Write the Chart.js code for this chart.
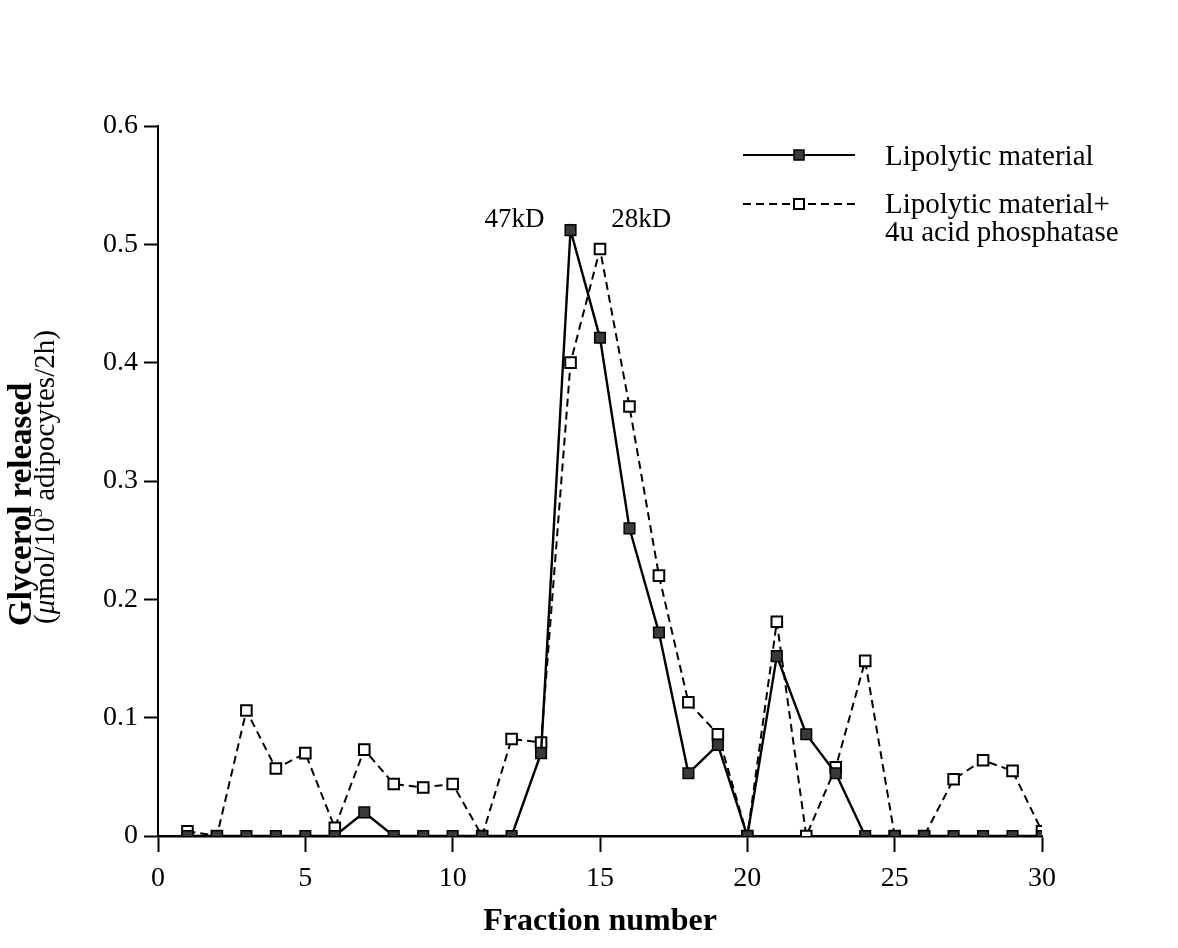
<!DOCTYPE html>
<html>
<head>
<meta charset="utf-8">
<script src="https://cdn.jsdelivr.net/npm/chart.js@4/dist/chart.umd.min.js"></script>
<style>
html,body{margin:0;padding:0;background:#fff;}
canvas{display:block;}
</style>
</head>
<body>
<canvas id="c" width="1178" height="948"></canvas>
<script>
// ---- data ----
const fractions = [1,2,3,4,5,6,7,8,9,10,11,12,13,14,15,16,17,18,19,20,21,22,23,24,25,26,27,28,29,30];
const lipolytic = [0,0,0,0,0,0,0.02,0,0,0,0,0,0.07,0.512,0.421,0.26,0.172,0.053,0.077,0,0.152,0.086,0.053,0,0,0,0,0,0,0];
const lipolyticAcidPhos = [0.004,0,0.106,0.057,0.07,0.007,0.073,0.044,0.041,0.044,0,0.082,0.079,0.4,0.496,0.363,0.22,0.113,0.086,0,0.181,0,0.058,0.148,0,0,0.048,0.064,0.055,0.004];
const xTickLabels = ['0','5','10','15','20','25','30'];
const yTickLabels = ['0','0.1','0.2','0.3','0.4','0.5','0.6'];
const seriesNames = ['Lipolytic material', 'Lipolytic material+', '4u acid phosphatase'];
const annotations = [{text:'47kD', x:12.1}, {text:'28kD', x:16.4}];
const xTitle = 'Fraction number';
const yTitle1 = 'Glycerol released';

const SERIF = '"Liberation Serif", "DejaVu Serif", serif';
Chart.defaults.font.family = SERIF;
Chart.defaults.color = '#000';

const fillColor = '#3a3a3a';

function drawMarker(ctx, x, y, filled) {
  const s = 10;
  ctx.save();
  ctx.setLineDash([]);
  ctx.lineWidth = filled ? 1.5 : 2;
  ctx.fillStyle = filled ? fillColor : '#fff';
  ctx.strokeStyle = '#000';
  ctx.fillRect(x - s/2, y - s/2, s, s);
  ctx.strokeRect(x - s/2, y - s/2, s, s);
  ctx.restore();
}

const decor = {
  id: 'decor',
  afterDraw(chart) {
    const ctx = chart.ctx;
    const xs = chart.scales.x;
    ctx.save();
    ctx.fillStyle = '#000';
    // x title
    ctx.font = 'bold 32px ' + SERIF;
    ctx.textAlign = 'center';
    ctx.textBaseline = 'middle';
    ctx.fillText(xTitle, (chart.chartArea.left + chart.chartArea.right) / 2, 922);

    // annotations
    ctx.font = '27px ' + SERIF;
    annotations.forEach(a => {
      ctx.fillText(a.text, xs.getPixelForValue(a.x), 220);
    });

    // y title line 1 (bold)
    ctx.save();
    ctx.translate(31, 626);
    ctx.rotate(-Math.PI / 2);
    ctx.textAlign = 'left';
    ctx.textBaseline = 'alphabetic';
    ctx.font = 'bold 33px ' + SERIF;
    ctx.fillText(yTitle1, 0, 0);
    ctx.restore();

    // y title line 2 (mixed)
    ctx.save();
    ctx.translate(54, 624);
    ctx.rotate(-Math.PI / 2);
    ctx.textAlign = 'left';
    ctx.textBaseline = 'alphabetic';
    const parts = [
      {t:'(', f:'29px '},
      {t:'\u03BC', f:'italic 29px '},
      {t:'mol/10', f:'29px '},
      {t:'5', f:'19px ', dy:-12},
      {t:' adipocytes/2h)', f:'29px '}
    ];
    let px = 0;
    parts.forEach(p => {
      ctx.font = p.f + SERIF;
      ctx.fillText(p.t, px, p.dy || 0);
      px += ctx.measureText(p.t).width;
    });
    ctx.restore();

    // legend
    ctx.strokeStyle = '#000';
    ctx.lineWidth = 2.2;
    ctx.setLineDash([]);
    ctx.beginPath(); ctx.moveTo(743, 155); ctx.lineTo(855, 155); ctx.stroke();
    drawMarker(ctx, 799, 155, true);
    ctx.lineWidth = 2;
    ctx.setLineDash([8, 5]);
    ctx.beginPath(); ctx.moveTo(743, 204); ctx.lineTo(855, 204); ctx.stroke();
    ctx.setLineDash([]);
    drawMarker(ctx, 799, 204, false);
    ctx.font = '29px ' + SERIF;
    ctx.textAlign = 'left';
    ctx.textBaseline = 'middle';
    ctx.fillText(seriesNames[0], 885, 157);
    ctx.fillText(seriesNames[1], 885, 205);
    ctx.fillText(seriesNames[2], 885, 233);
    ctx.restore();
  }
};

const solidData = fractions.map((f, i) => ({x: f, y: lipolytic[i]}));
const dashData = fractions.map((f, i) => ({x: f, y: lipolyticAcidPhos[i]}));

new Chart(document.getElementById('c'), {
  type: 'line',
  data: {
    datasets: [
      {
        label: seriesNames[0],
        data: solidData,
        borderColor: '#000',
        borderWidth: 2.4,
        pointStyle: 'rect',
        pointRadius: 7.5,
        pointBackgroundColor: fillColor,
        pointBorderColor: '#000',
        pointBorderWidth: 1.5,
        tension: 0,
        fill: false,
        order: 0
      },
      {
        label: seriesNames[1] + ' ' + seriesNames[2],
        data: dashData,
        borderColor: '#000',
        borderWidth: 2,
        borderDash: [8, 5],
        pointStyle: 'rect',
        pointRadius: 7.5,
        pointBackgroundColor: '#fff',
        pointBorderColor: '#000',
        pointBorderWidth: 2,
        tension: 0,
        fill: false,
        order: 1
      }
    ]
  },
  options: {
    responsive: false,
    animation: false,
    events: [],
    layout: { padding: { top: 126, right: 136, bottom: 0, left: 0 } },
    plugins: { legend: { display: false }, title: { display: false }, tooltip: { enabled: false } },
    scales: {
      x: {
        type: 'linear',
        min: 0, max: 30,
        afterFit(s) { s.height = 112; },
        afterBuildTicks(s) { s.ticks = xTickLabels.map(v => ({value: Number(v)})); },
        ticks: {
          callback: (v) => xTickLabels.find(l => Number(l) === v) ?? '',
          font: { size: 28 },
          padding: 10,
          maxRotation: 0,
          autoSkip: false
        },
        grid: { display: true, drawOnChartArea: false, drawTicks: true, tickLength: 16, tickWidth: 2, tickColor: '#000' },
        border: { display: true, color: '#000', width: 2.5 }
      },
      y: {
        type: 'linear',
        min: 0, max: 0.6,
        afterFit(s) { s.width = 158; },
        afterBuildTicks(s) { s.ticks = yTickLabels.map(v => ({value: Number(v)})); },
        ticks: {
          callback: (v) => yTickLabels.find(l => Math.abs(Number(l) - v) < 1e-9) ?? '',
          font: { size: 28 },
          padding: 6,
          autoSkip: false
        },
        grid: { display: true, drawOnChartArea: false, drawTicks: true, tickLength: 14, tickWidth: 2, tickColor: '#000' },
        border: { display: true, color: '#000', width: 2 }
      }
    }
  },
  plugins: [decor]
});
</script>
</body>
</html>
